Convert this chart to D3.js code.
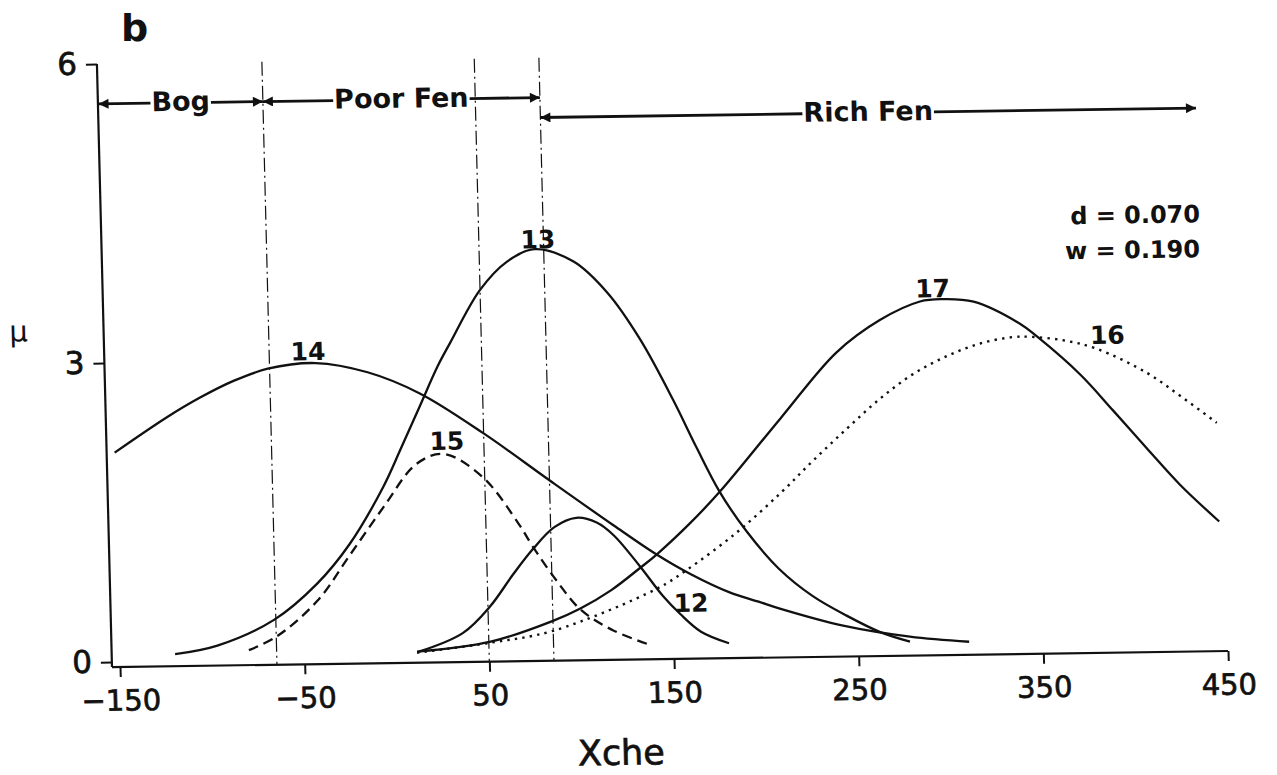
<!DOCTYPE html>
<html>
<head>
<meta charset="utf-8">
<script src="https://cdn.jsdelivr.net/npm/d3@7"></script>
<style>
  body { margin: 0; background: #fff; }
  svg { display: block; }
  text { font-family: "DejaVu Sans", sans-serif; fill: #111; }
</style>
</head>
<body>
<svg width="1277" height="775"></svg>
<script>
// ---- data ----
const xTicks = [-150, -50, 50, 150, 250, 350, 450]
const yTicks = [0, 3, 6]
const boundaries = [-65, 50, 85]

const zoneNames = ['Bog', 'Poor Fen', 'Rich Fen']
const zoneFrom = [-154, -65, 85]
const zoneTo = [-65, 85, 440]
const zoneLevel = [5.6, 5.6, 5.4]

// species response curves, [Xche, mu]
const sp12 = [[12, 0.06], [36, 0.24], [51, 0.50], [64, 0.82], [75, 1.07], [87, 1.29], [99, 1.38], [110, 1.33], [119, 1.20], [133, 0.88], [145, 0.58], [154, 0.40], [165, 0.22], [180, 0.10]]
const sp13 = [[-120, 0.07], [-97, 0.15], [-66, 0.40], [-42, 0.76], [-24, 1.15], [-5, 1.72], [5, 2.10], [16, 2.53], [26, 2.92], [33, 3.15], [50, 3.68], [65, 3.96], [80, 4.08], [101, 3.95], [119, 3.63], [136, 3.16], [153, 2.55], [165, 2.07], [177, 1.62], [191, 1.22], [208, 0.84], [226, 0.56], [244, 0.36], [262, 0.19], [278, 0.09]]
const sp14 = [[-150, 2.10], [-121, 2.45], [-103, 2.64], [-85, 2.80], [-66, 2.92], [-40, 2.97], [-12, 2.87], [16, 2.65], [50, 2.24], [85, 1.76], [119, 1.30], [142, 1.00], [160, 0.80], [181, 0.61], [197, 0.51], [208, 0.44], [242, 0.26], [278, 0.14], [310, 0.08]]
const sp15 = [[-80, 0.10], [-65, 0.23], [-42, 0.59], [-24, 1.04], [-5, 1.52], [13, 1.94], [28, 2.04], [49, 1.80], [68, 1.32], [75, 1.10], [88, 0.74], [100, 0.46], [117, 0.25], [138, 0.09]]
const sp16 = [[11, 0.05], [51, 0.14], [85, 0.25], [142, 0.66], [158, 0.84], [185, 1.20], [210, 1.60], [228, 1.92], [247, 2.24], [265, 2.53], [283, 2.77], [302, 2.95], [320, 3.07], [338, 3.13], [347, 3.13], [365, 3.09], [383, 3.00], [410, 2.75], [428, 2.51], [447, 2.24]]
const sp17 = [[11, 0.06], [51, 0.15], [85, 0.35], [100, 0.47], [117, 0.65], [133, 0.87], [142, 1.00], [160, 1.30], [177, 1.62], [211, 2.35], [242, 3.00], [266, 3.32], [288, 3.50], [300, 3.52], [317, 3.49], [342, 3.26], [351, 3.13], [374, 2.74], [391, 2.38], [409, 1.99], [426, 1.63], [447, 1.25]]

const speciesNames = ['12', '13', '14', '15', '16', '17']
const speciesData = [sp12, sp13, sp14, sp15, sp16, sp17]
// where each curve number sits, [Xche, mu]
const labelPos = [[160, 0.42], [82, 4.09], [-44, 3.0], [30, 2.08], [389, 3.05], [295, 3.54]]

// ---- layout ----
const svg = d3.select('svg')
const axisY = 667
const axisX = 112

const x = d3.scaleLinear().domain([-150, 450]).range([120, 1228])
const y = d3.scaleLinear().domain([0, 6]).range([662, 64])

// the scanned figure is slightly sheared
const shX = 0.025, shY = -0.0144
const g = svg.append('g')
  .attr('transform', `matrix(1,${shY},${shX},1,${-shX * axisY},${-shY * 118})`)

const defs = svg.append('defs')
defs.append('marker')
  .attr('id', 'head')
  .attr('viewBox', '0 0 10 10')
  .attr('refX', 10).attr('refY', 5)
  .attr('markerWidth', 14).attr('markerHeight', 10)
  .attr('markerUnits', 'userSpaceOnUse')
  .attr('orient', 'auto-start-reverse')
  .append('path').attr('d', 'M0,0L10,5L0,10z').attr('fill', '#111')

// boundaries between zones
g.selectAll('.bound').data(boundaries).join('line')
  .attr('x1', d => x(d)).attr('x2', d => x(d))
  .attr('y1', y(6)).attr('y2', axisY)
  .attr('stroke', '#111').attr('stroke-width', 1.2)
  .attr('stroke-dasharray', '14,4,2,4')

// axes
const xAxis = g.append('g')
  .attr('transform', 'translate(0,' + axisY + ')')
  .call(d3.axisBottom(x).tickValues(xTicks).tickSize(10).tickPadding(13)
    .tickFormat(d => d < 0 ? '\u2212' + Math.abs(d) : d))
xAxis.select('.domain').remove()
xAxis.selectAll('line').attr('stroke', '#111').attr('stroke-width', 2)
xAxis.selectAll('text').attr('font-size', 29).attr('fill', '#111')
  .attr('stroke', '#111').attr('stroke-width', 0.7)
  .style('font-family', '"DejaVu Sans", sans-serif')

const yAxis = g.append('g')
  .attr('transform', 'translate(' + axisX + ',0)')
  .call(d3.axisLeft(y).tickValues(yTicks).tickSize(11).tickPadding(9)
    .tickFormat(d3.format('d')))
yAxis.select('.domain').remove()
yAxis.selectAll('line').attr('stroke', '#111').attr('stroke-width', 2)
yAxis.selectAll('text').attr('font-size', 31).attr('fill', '#111')
  .attr('stroke', '#111').attr('stroke-width', 0.7)
  .style('font-family', '"DejaVu Sans", sans-serif')

g.append('line')
  .attr('x1', axisX).attr('x2', x(450)).attr('y1', axisY).attr('y2', axisY)
  .attr('stroke', '#111').attr('stroke-width', 2.2)
g.append('line')
  .attr('x1', axisX).attr('x2', axisX).attr('y1', y(6)).attr('y2', axisY)
  .attr('stroke', '#111').attr('stroke-width', 2.2)

g.append('text').attr('x', 619).attr('y', 772)
  .attr('text-anchor', 'middle').attr('font-size', 35)
  .attr('stroke', '#111').attr('stroke-width', 0.7).text('Xche')
g.append('text').attr('x', 27).attr('y', 340)
  .attr('text-anchor', 'middle').attr('font-size', 29).text('\u03bc')

// curves
const line = d3.line()
  .x(d => x(d[0]))
  .y(d => y(d[1]))
  .curve(d3.curveCatmullRom.alpha(0.5))

const dashes = { '15': '10,6', '16': '2.4,5.2' }

g.selectAll('.curve').data(speciesData).join('path')
  .attr('class', 'curve')
  .attr('d', line)
  .attr('fill', 'none')
  .attr('stroke', '#111')
  .attr('stroke-width', (d, i) => speciesNames[i] === '16' ? 2.4 : 2.3)
  .attr('stroke-dasharray', (d, i) => dashes[speciesNames[i]] || null)

g.selectAll('.lab').data(speciesNames).join('text')
  .attr('x', (d, i) => x(labelPos[i][0]))
  .attr('y', (d, i) => y(labelPos[i][1]))
  .attr('text-anchor', 'middle')
  .attr('font-size', 25).attr('font-weight', 'bold')
  .text(d => d)

// zone arrows
zoneNames.forEach((name, i) => {
  const yy = y(zoneLevel[i])
  const mid = (x(zoneFrom[i]) + x(zoneTo[i])) / 2
  const t = g.append('text')
    .attr('x', mid).attr('y', yy + 8)
    .attr('text-anchor', 'middle')
    .attr('font-size', 27).attr('font-weight', 'bold')
    .text(name)
  const w = t.node().getComputedTextLength()
  g.append('line')
    .attr('x1', mid - w / 2 - 1).attr('x2', x(zoneFrom[i]))
    .attr('y1', yy).attr('y2', yy)
    .attr('stroke', '#111').attr('stroke-width', 2.8)
    .attr('marker-end', 'url(#head)')
  g.append('line')
    .attr('x1', mid + w / 2 + 1).attr('x2', x(zoneTo[i]))
    .attr('y1', yy).attr('y2', yy)
    .attr('stroke', '#111').attr('stroke-width', 2.8)
    .attr('marker-end', 'url(#head)')
})

// fit parameters
g.append('text').attr('x', 1211).attr('y', 238)
  .attr('text-anchor', 'end').attr('font-size', 24).attr('font-weight', 'bold')
  .text('d = 0.070')
g.append('text').attr('x', 1210).attr('y', 273)
  .attr('text-anchor', 'end').attr('font-size', 24).attr('font-weight', 'bold')
  .text('w = 0.190')

svg.append('text').attr('x', 121).attr('y', 41)
  .attr('font-size', 38).attr('font-weight', 'bold').text('b')
</script>
</body>
</html>
